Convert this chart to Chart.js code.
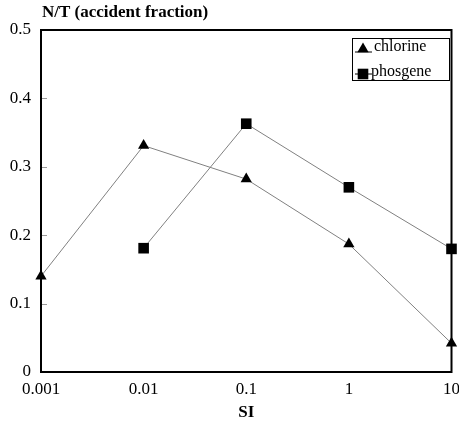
<!DOCTYPE html>
<html>
<head>
<meta charset="utf-8">
<script src="https://cdn.jsdelivr.net/npm/chart.js@4/dist/chart.umd.min.js"></script>
<style>
  html, body { margin: 0; padding: 0; background: #fff; }
  #wrap { width: 459px; height: 425px; }
</style>
</head>
<body>
<div id="wrap"><canvas id="chart" width="459" height="425"></canvas></div>
<script>
// values
var siValues = [0.001, 0.01, 0.1, 1, 10];
var chlorine = [0.140, 0.331, 0.282, 0.187, 0.042];
var phosgene = [null, 0.181, 0.363, 0.270, 0.180];
var xTicks = [0.001, 0.01, 0.1, 1, 10];
var yTicks = [0, 0.1, 0.2, 0.3, 0.4, 0.5];

var serif = '"Liberation Serif", "Times New Roman", serif';

function toPoints(vals) {
  var pts = [];
  vals.forEach(function (v, i) {
    if (v !== null) pts.push({ x: siValues[i], y: v });
  });
  return pts;
}

// frame, inner y ticks, titles and the boxed legend
var decor = {
  id: 'decor',
  afterDraw: function (chart) {
    var ctx = chart.ctx, a = chart.chartArea;
    var ys = chart.scales.y;
    ctx.save();
    ctx.strokeStyle = '#000';
    ctx.lineWidth = 2;
    ctx.strokeRect(a.left, a.top, a.right - a.left, a.bottom - a.top);

    ctx.strokeStyle = '#999';
    ctx.lineWidth = 1;
    yTicks.forEach(function (t) {
      if (t === 0 || t === 0.5) return;
      var py = Math.round(ys.getPixelForValue(t)) + 0.5;
      ctx.beginPath();
      ctx.moveTo(a.left + 1, py);
      ctx.lineTo(a.left + 6, py);
      ctx.stroke();
    });

    ctx.fillStyle = '#000';
    ctx.font = 'bold 17px ' + serif;
    ctx.textAlign = 'left';
    ctx.textBaseline = 'middle';
    ctx.fillText('N/T (accident fraction)', 42, 13);
    ctx.textAlign = 'center';
    ctx.fillText('SI', (a.left + a.right) / 2, 413);

    // legend
    ctx.strokeStyle = '#000';
    ctx.lineWidth = 1;
    ctx.strokeRect(352.5, 38.5, 97, 42);
    ctx.font = '16px ' + serif;
    ctx.textAlign = 'left';
    chart.data.datasets.forEach(function (ds, i) {
      var cy = i === 0 ? 49 : 74;
      ctx.strokeStyle = '#000';
      ctx.beginPath();
      ctx.moveTo(355, cy + (i === 0 ? 3 : 0));
      ctx.lineTo(372, cy + (i === 0 ? 3 : 0));
      ctx.stroke();
      Chart.helpers.drawPoint(ctx, {
        pointStyle: ds.pointStyle,
        radius: ds.pointRadius,
        rotation: 0,
        borderWidth: 0
      }, 363, cy);
      ctx.fillStyle = '#000';
      ctx.fillText(ds.label, i === 0 ? 374 : 371, cy - 2);
    });
    ctx.restore();
  }
};

var config = {
  type: 'line',
  data: {
    datasets: [
      {
        label: 'chlorine',
        data: toPoints(chlorine),
        borderColor: '#808080',
        borderWidth: 1,
        backgroundColor: '#000',
        pointBackgroundColor: '#000',
        pointBorderColor: '#000',
        pointBorderWidth: 0,
        pointStyle: 'triangle',
        pointRadius: 6.5,
        clip: false,
        fill: false
      },
      {
        label: 'phosgene',
        data: toPoints(phosgene),
        borderColor: '#808080',
        borderWidth: 1,
        backgroundColor: '#000',
        pointBackgroundColor: '#000',
        pointBorderColor: '#000',
        pointBorderWidth: 0,
        pointStyle: 'rect',
        pointRadius: 7.5,
        clip: false,
        fill: false
      }
    ]
  },
  options: {
    responsive: false,
    animation: false,
    events: [],
    layout: { padding: { top: 30, right: 6, left: 0, bottom: 0 } },
    plugins: {
      legend: { display: false },
      tooltip: { enabled: false }
    },
    scales: {
      x: {
        type: 'logarithmic',
        min: 0.001,
        max: 10,
        afterBuildTicks: function (s) {
          s.ticks = xTicks.map(function (v) { return { value: v }; });
        },
        afterFit: function (s) {
          s.height = 53;
          s.paddingLeft = 0;
          s.paddingRight = 0;
        },
        grid: { display: false, drawTicks: false },
        border: { display: false },
        ticks: {
          autoSkip: false,
          maxRotation: 0,
          padding: 7,
          color: '#000',
          font: { family: serif, size: 17 },
          callback: function (v) { return String(v); }
        }
      },
      y: {
        min: 0,
        max: 0.5,
        afterBuildTicks: function (s) {
          s.ticks = yTicks.map(function (v) { return { value: v }; });
        },
        afterFit: function (s) {
          s.width = 41;
          s.paddingTop = 0;
          s.paddingBottom = 0;
        },
        grid: { display: false, drawTicks: false },
        border: { display: false },
        ticks: {
          padding: 10,
          color: '#000',
          font: { family: serif, size: 17 },
          callback: function (v) { return String(Number(v.toFixed(1))); }
        }
      }
    }
  },
  plugins: [decor]
};

var ctx = document.getElementById('chart').getContext('2d');
window.myLine = new Chart(ctx, config);
</script>
</body>
</html>
